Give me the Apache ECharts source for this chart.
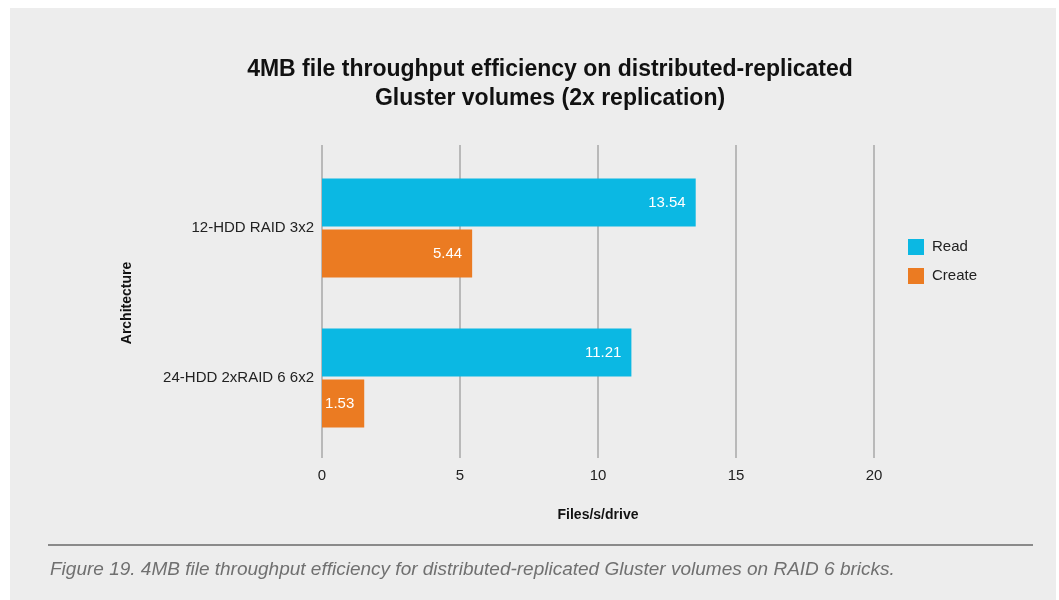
<!DOCTYPE html>
<html>
<head>
<meta charset="utf-8">
<script src="https://cdn.jsdelivr.net/npm/echarts@6/dist/echarts.min.js"></script>
<style>
  html, body { margin: 0; padding: 0; background: #ffffff; }
  #panel { position: absolute; left: 10px; top: 8px; width: 1046px; height: 592px; background: #ededed; }
  #chart { position: absolute; left: 0; top: 0; width: 1059px; height: 600px; }
</style>
</head>
<body>
<div id="panel"></div>
<div id="chart"></div>
<script>
// data
var categories = ['12-HDD RAID 3x2', '24-HDD 2xRAID 6 6x2'];
var readValues = [13.54, 11.21];
var createValues = [5.44, 1.53];
var xTicks = [0, 5, 10, 15, 20];

var font = 'Liberation Sans';
var myChart = echarts.init(document.getElementById('chart'));

var options = {
  backgroundColor: 'transparent',
  animation: false,
  textStyle: { fontFamily: font },
  title: {
    text: '4MB file throughput efficiency on distributed-replicated\nGluster volumes (2x replication)',
    left: 545,
    top: 50,
    textAlign: 'center',
    textStyle: { fontSize: 23, fontWeight: 'bold', color: '#111', lineHeight: 29, fontFamily: font }
  },
  legend: {
    orient: 'vertical',
    left: 903,
    top: 234,
    itemWidth: 16,
    itemHeight: 16,
    itemGap: 13,
    icon: 'rect',
    textStyle: { fontSize: 15, color: '#222', padding: [0, 0, 0, 3] },
    data: ['Read', 'Create']
  },
  grid: [
    // bars
    { left: 322, width: 552, top: 153, height: 300 },
    // gridlines + x labels
    { left: 322, width: 552, top: 145, height: 313 }
  ],
  xAxis: [
    { gridIndex: 0, type: 'value', min: 0, max: 20, interval: 5, show: false },
    {
      gridIndex: 1,
      type: 'value',
      min: xTicks[0],
      max: xTicks[xTicks.length - 1],
      interval: 5,
      axisLine: { show: false },
      axisTick: { show: false },
      splitLine: { show: true, lineStyle: { color: '#b9b9b9', width: 2 } },
      axisLabel: { fontSize: 15, color: '#222', margin: 10 },
      name: 'Files/s/drive',
      nameLocation: 'middle',
      nameGap: 50,
      nameTextStyle: { fontSize: 14, fontWeight: 'bold', color: '#111' }
    }
  ],
  yAxis: [
    {
      gridIndex: 0,
      type: 'category',
      inverse: true,
      data: categories,
      axisLine: { show: false },
      axisTick: { show: false },
      axisLabel: { fontSize: 15, color: '#222', margin: 8, padding: [4, 0, 0, 0] },
      name: 'Architecture',
      nameLocation: 'middle',
      nameGap: 188,
      nameRotate: 90,
      nameTextStyle: { fontSize: 14, fontWeight: 'bold', color: '#111' }
    },
    { gridIndex: 1, type: 'category', data: categories, show: false }
  ],
  series: [
    {
      name: 'Read',
      type: 'bar',
      xAxisIndex: 0,
      yAxisIndex: 0,
      barWidth: 48,
      barGap: '6%',
      itemStyle: { color: '#0bb8e3' },
      label: { show: true, position: 'insideRight', distance: 10, color: '#fff', fontSize: 15 },
      data: readValues
    },
    {
      name: 'Create',
      type: 'bar',
      xAxisIndex: 0,
      yAxisIndex: 0,
      barWidth: 48,
      barGap: '6%',
      itemStyle: { color: '#eb7b22' },
      label: { show: true, position: 'insideRight', distance: 10, color: '#fff', fontSize: 15 },
      data: createValues
    }
  ],
  graphic: [
    {
      type: 'rect',
      shape: { x: 48, y: 544, width: 985, height: 2 },
      style: { fill: '#8a8a8a' }
    },
    {
      type: 'text',
      left: 50,
      top: 560,
      style: {
        text: 'Figure 19. 4MB file throughput efficiency for distributed-replicated Gluster volumes on RAID 6 bricks.',
        font: 'italic 19px "Liberation Sans"',
        fill: '#707070'
      }
    }
  ]
};

myChart.setOption(options);
</script>
</body>
</html>
